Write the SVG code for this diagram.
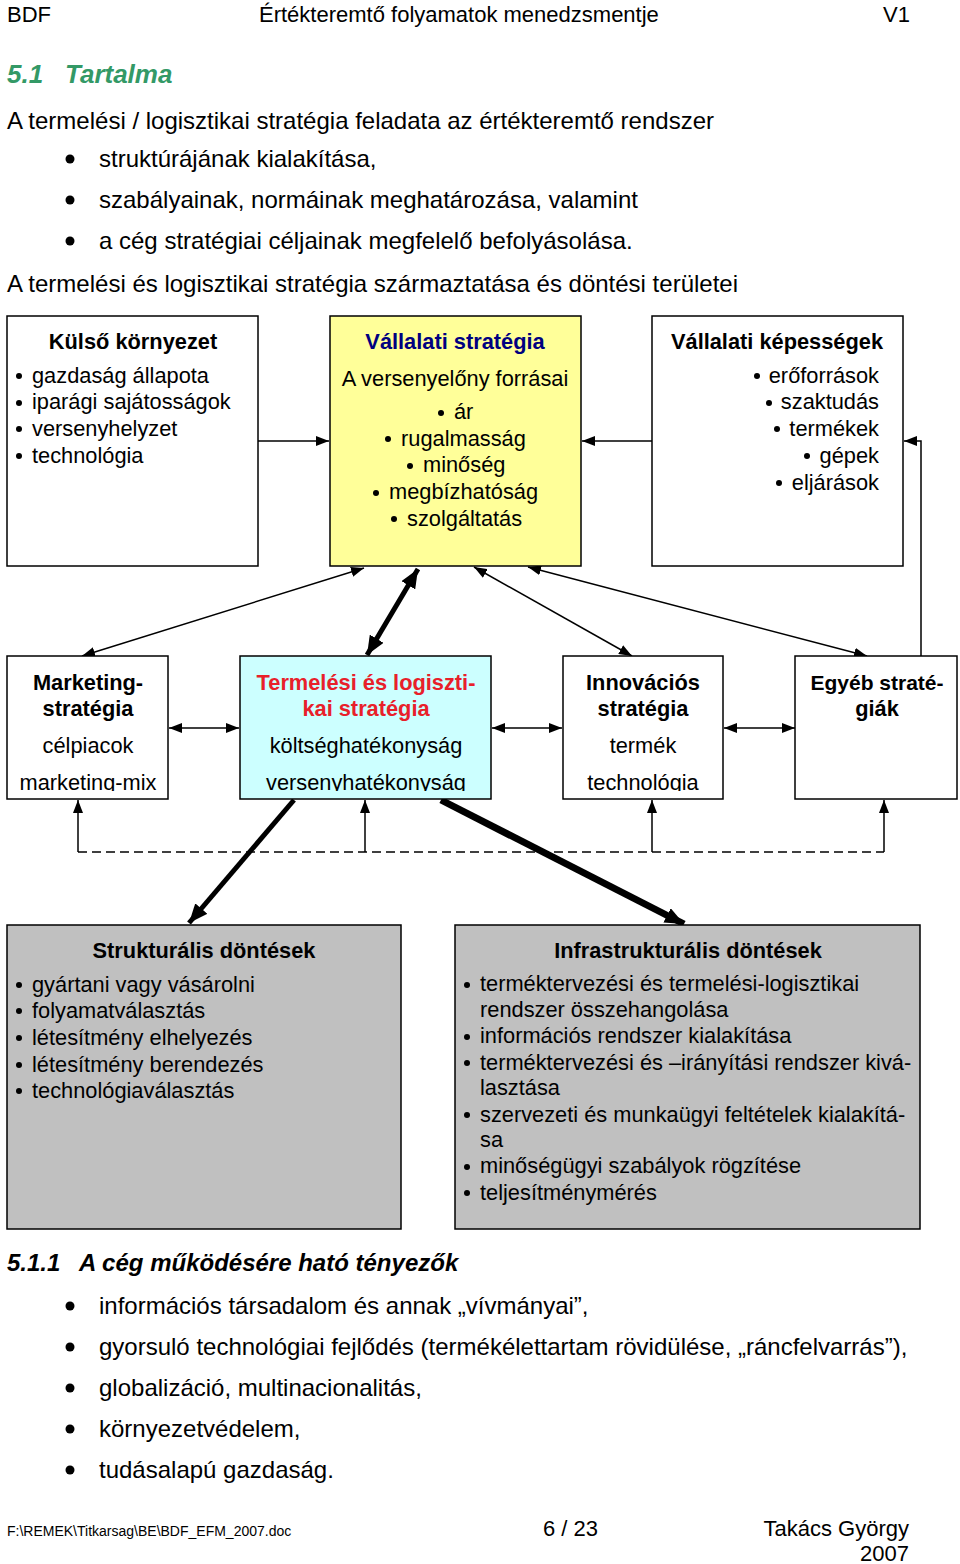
<svg xmlns="http://www.w3.org/2000/svg" width="960" height="1564" viewBox="0 0 960 1564">
<style>
text{font-family:"Liberation Sans",Arial,sans-serif;fill:#000}
.body{font-size:24px}
.hdr{font-size:22px}
.d{font-size:21.8px}
.b{font-weight:bold}
.m{text-anchor:middle}
.e{text-anchor:end}
.box{stroke:#000;stroke-width:1.5}
.ln{stroke:#000;stroke-width:1.5;fill:none}
.thick{stroke:#000;stroke-width:5;fill:none}
</style>
<defs>
<marker id="a" markerUnits="userSpaceOnUse" markerWidth="14" markerHeight="10" refX="13" refY="5" orient="auto-start-reverse"><path d="M0,0 L13,5 L0,10 z" fill="#000"/></marker>
<marker id="t" markerUnits="userSpaceOnUse" markerWidth="20" markerHeight="16" refX="19" refY="8" orient="auto-start-reverse"><path d="M0,0 L19,8 L0,16 z" fill="#000"/></marker>
<clipPath id="c1"><rect x="0" y="650" width="960" height="141"/></clipPath>
</defs>
<rect width="960" height="1564" fill="#fff"/>

<g id="header">
<text class="hdr" x="7" y="22">BDF</text>
<text class="hdr" x="259" y="22">Értékteremtő folyamatok menedzsmentje</text>
<text class="hdr" x="883" y="22">V1</text>
</g>

<g id="intro">
<text x="7" y="83" style="font-size:26px;font-weight:bold;font-style:italic;fill:#339966">5.1</text>
<text x="65" y="83" style="font-size:26px;font-weight:bold;font-style:italic;fill:#339966">Tartalma</text>
<text class="body" x="7" y="129">A termelési / logisztikai stratégia feladata az értékteremtő rendszer</text>
<circle cx="70" cy="159" r="4.5"/><text class="body" x="99" y="167">struktúrájának kialakítása,</text>
<circle cx="70" cy="200" r="4.5"/><text class="body" x="99" y="208">szabályainak, normáinak meghatározása, valamint</text>
<circle cx="70" cy="241" r="4.5"/><text class="body" x="99" y="249">a cég stratégiai céljainak megfelelő befolyásolása.</text>
<text class="body" x="7" y="292">A termelési és logisztikai stratégia származtatása és döntési területei</text>
</g>

<g id="connectors">
<line class="ln" x1="258" y1="441" x2="329" y2="441" marker-end="url(#a)"/>
<line class="ln" x1="652" y1="441" x2="582" y2="441" marker-end="url(#a)"/>
<polyline class="ln" points="921,656 921,441 904,441" marker-end="url(#a)"/>
<line class="ln" x1="364" y1="568" x2="82" y2="656" marker-start="url(#a)" marker-end="url(#a)"/>
<line class="thick" x1="418" y1="569" x2="367" y2="655" marker-start="url(#t)" marker-end="url(#t)"/>
<line class="ln" x1="474" y1="567" x2="632" y2="656" marker-start="url(#a)" marker-end="url(#a)"/>
<line class="ln" x1="528" y1="567" x2="867" y2="656" marker-start="url(#a)" marker-end="url(#a)"/>
<line class="ln" x1="169" y1="728" x2="239" y2="728" marker-start="url(#a)" marker-end="url(#a)"/>
<line class="ln" x1="492" y1="728" x2="562" y2="728" marker-start="url(#a)" marker-end="url(#a)"/>
<line class="ln" x1="724" y1="728" x2="795" y2="728" marker-start="url(#a)" marker-end="url(#a)"/>
<line x1="78" y1="852" x2="884" y2="852" stroke="#000" stroke-width="1.5" stroke-dasharray="9,5"/>
<line class="ln" x1="78" y1="852" x2="78" y2="800" marker-end="url(#a)"/>
<line class="ln" x1="365" y1="852" x2="365" y2="800" marker-end="url(#a)"/>
<line class="ln" x1="652" y1="852" x2="652" y2="800" marker-end="url(#a)"/>
<line class="ln" x1="884" y1="852" x2="884" y2="800" marker-end="url(#a)"/>
<line class="thick" x1="294" y1="800" x2="189" y2="923" marker-end="url(#t)"/>
<line class="thick" style="stroke-width:7" x1="441" y1="800" x2="684" y2="924" marker-end="url(#t)"/>
</g>

<g id="kulso">
<rect class="box" x="7" y="316" width="251" height="250" fill="#fff"/>
<text class="d b m" x="133" y="349">Külső környezet</text>
<circle cx="19" cy="376" r="3"/><text class="d" x="32" y="383">gazdaság állapota</text>
<circle cx="19" cy="403" r="3"/><text class="d" x="32" y="409">iparági sajátosságok</text>
<circle cx="19" cy="429" r="3"/><text class="d" x="32" y="436">versenyhelyzet</text>
<circle cx="19" cy="456" r="3"/><text class="d" x="32" y="463">technológia</text>
</g>

<g id="vallalati-strategia">
<rect class="box" x="330" y="316" width="251" height="250" fill="#ffff99"/>
<text class="d b m" x="455" y="349" style="fill:#000080">Vállalati stratégia</text>
<text class="d m" x="455" y="386">A versenyelőny forrásai</text>
<circle cx="441" cy="413" r="3"/><text class="d" x="454" y="419">ár</text>
<circle cx="388" cy="439" r="3"/><text class="d" x="401" y="446">rugalmasság</text>
<circle cx="410" cy="466" r="3"/><text class="d" x="423" y="472">minőség</text>
<circle cx="376" cy="493" r="3"/><text class="d" x="389" y="499">megbízhatóság</text>
<circle cx="394" cy="519" r="3"/><text class="d" x="407" y="526">szolgáltatás</text>
</g>

<g id="vallalati-kepessegek">
<rect class="box" x="652" y="316" width="251" height="250" fill="#fff"/>
<text class="d b m" x="777" y="349">Vállalati képességek</text>
<circle cx="757" cy="376" r="3"/><text class="d e" x="879" y="383">erőforrások</text>
<circle cx="769" cy="403" r="3"/><text class="d e" x="879" y="409">szaktudás</text>
<circle cx="777" cy="429" r="3"/><text class="d e" x="879" y="436">termékek</text>
<circle cx="807" cy="456" r="3"/><text class="d e" x="879" y="463">gépek</text>
<circle cx="779" cy="483" r="3"/><text class="d e" x="879" y="490">eljárások</text>
</g>

<g id="marketing">
<rect class="box" x="7" y="656" width="161" height="143" fill="#fff"/>
<g clip-path="url(#c1)">
<text class="d b m" x="88" y="690">Marketing-</text>
<text class="d b m" x="88" y="716">stratégia</text>
<text class="d m" x="88" y="753">célpiacok</text>
<text class="d m" x="88" y="790">marketing-mix</text>
</g>
</g>

<g id="termelesi">
<rect class="box" x="240" y="656" width="251" height="143" fill="#ccffff"/>
<g clip-path="url(#c1)">
<text class="d b m" x="366" y="690" style="fill:#e8202a">Termelési és logiszti-</text>
<text class="d b m" x="366" y="716" style="fill:#e8202a">kai stratégia</text>
<text class="d m" x="366" y="753">költséghatékonyság</text>
<text class="d m" x="366" y="790">versenyhatékonyság</text>
</g>
</g>

<g id="innovacios">
<rect class="box" x="563" y="656" width="160" height="143" fill="#fff"/>
<g clip-path="url(#c1)">
<text class="d b m" x="643" y="690">Innovációs</text>
<text class="d b m" x="643" y="716">stratégia</text>
<text class="d m" x="643" y="753">termék</text>
<text class="d m" x="643" y="790">technológia</text>
</g>
</g>

<g id="egyeb">
<rect class="box" x="795" y="656" width="162" height="143" fill="#fff"/>
<text class="b m" x="877" y="690" style="font-size:21px">Egyéb straté-</text>
<text class="d b m" x="877" y="716">giák</text>
</g>

<g id="strukturalis">
<rect class="box" x="7" y="925" width="394" height="304" fill="#c0c0c0"/>
<text class="d b m" x="204" y="958">Strukturális döntések</text>
<circle cx="19" cy="985" r="3"/><text class="d" x="32" y="992">gyártani vagy vásárolni</text>
<circle cx="19" cy="1011" r="3"/><text class="d" x="32" y="1018">folyamatválasztás</text>
<circle cx="19" cy="1038" r="3"/><text class="d" x="32" y="1045">létesítmény elhelyezés</text>
<circle cx="19" cy="1065" r="3"/><text class="d" x="32" y="1072">létesítmény berendezés</text>
<circle cx="19" cy="1091" r="3"/><text class="d" x="32" y="1098">technológiaválasztás</text>
</g>

<g id="infrastrukturalis">
<rect class="box" x="455" y="925" width="465" height="304" fill="#c0c0c0"/>
<text class="d b m" x="688" y="958">Infrastrukturális döntések</text>
<circle cx="467" cy="985" r="3"/><text class="d" x="480" y="991">terméktervezési és termelési-logisztikai</text>
<text class="d" x="480" y="1017">rendszer összehangolása</text>
<circle cx="467" cy="1037" r="3"/><text class="d" x="480" y="1043">információs rendszer kialakítása</text>
<circle cx="467" cy="1063" r="3"/><text class="d" x="480" y="1070">terméktervezési és –irányítási rendszer kivá-</text>
<text class="d" x="480" y="1095">lasztása</text>
<circle cx="467" cy="1115" r="3"/><text class="d" x="480" y="1122">szervezeti és munkaügyi feltételek kialakítá-</text>
<text class="d" x="480" y="1147">sa</text>
<circle cx="467" cy="1167" r="3"/><text class="d" x="480" y="1173">minőségügyi szabályok rögzítése</text>
<circle cx="467" cy="1193" r="3"/><text class="d" x="480" y="1200">teljesítménymérés</text>
</g>

<g id="section-511">
<text x="7" y="1271" style="font-size:24px;font-weight:bold;font-style:italic">5.1.1</text>
<text x="79" y="1271" style="font-size:24px;font-weight:bold;font-style:italic">A cég működésére ható tényezők</text>
<circle cx="70" cy="1306" r="4.5"/><text class="body" x="99" y="1314">információs társadalom és annak „vívmányai”,</text>
<circle cx="70" cy="1347" r="4.5"/><text class="body" x="99" y="1355">gyorsuló technológiai fejlődés (termékélettartam rövidülése, „ráncfelvarrás”),</text>
<circle cx="70" cy="1388" r="4.5"/><text class="body" x="99" y="1396">globalizáció, multinacionalitás,</text>
<circle cx="70" cy="1429" r="4.5"/><text class="body" x="99" y="1437">környezetvédelem,</text>
<circle cx="70" cy="1470" r="4.5"/><text class="body" x="99" y="1478">tudásalapú gazdaság.</text>
</g>

<g id="footer">
<text x="7" y="1536" style="font-size:14px">F:\REMEK\Titkarsag\BE\BDF_EFM_2007.doc</text>
<text class="hdr" x="543" y="1536">6 / 23</text>
<text class="hdr e" x="909" y="1536">Takács György</text>
<text class="hdr e" x="909" y="1561">2007</text>
</g>
</svg>
